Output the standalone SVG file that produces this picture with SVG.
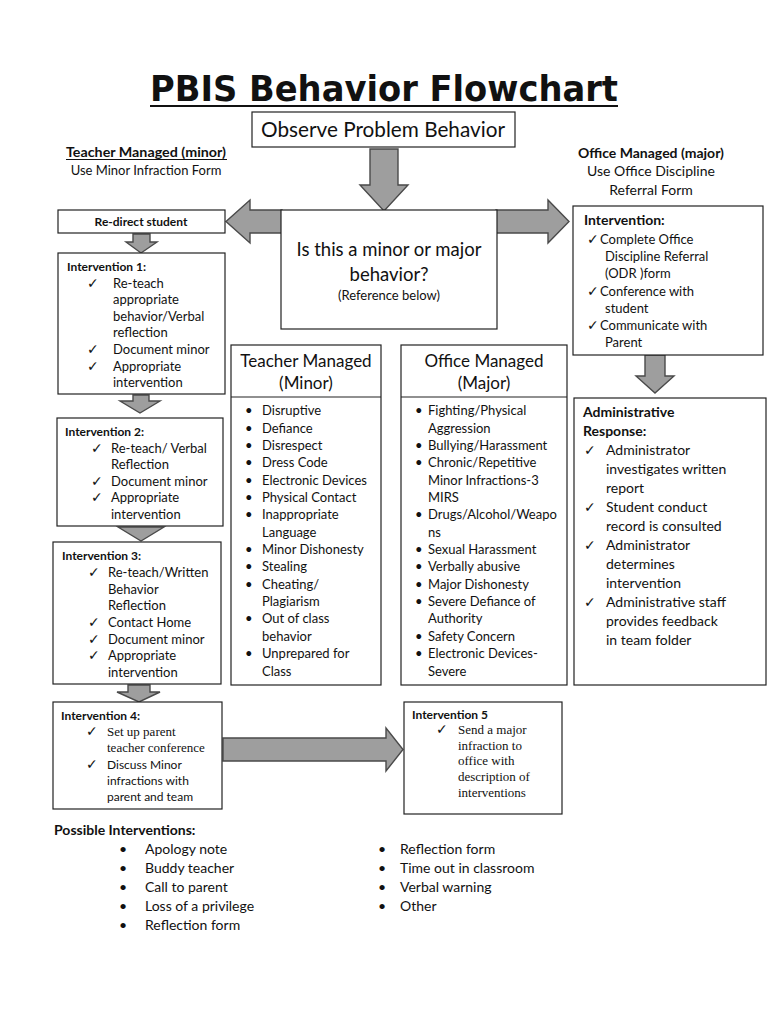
<svg xmlns="http://www.w3.org/2000/svg" width="770" height="1024" viewBox="0 0 770 1024">
<defs>
<style>
text{font-family:Lato,"Liberation Sans",sans-serif;fill:#111;}
.box{fill:#fff;stroke:#222;stroke-width:1.2;}
.arrow{fill:#9e9e9e;stroke:#4a4a4a;stroke-width:1.4;stroke-linejoin:miter;}
.b{font-weight:bold;}
.s12{font-size:12px;}
.s13{font-size:13px;}
.s14{font-size:14px;}
.ck{font-family:"DejaVu Sans",sans-serif;font-size:14px;}
.tm{font-family:"Liberation Serif",serif;font-size:13px;}
.c{text-anchor:middle;}
</style>
</defs>
<rect width="770" height="1024" fill="#fff"/>

<g id="title">
<text x="384" y="101" class="c b" style="font-family:'DejaVu Sans',sans-serif;font-size:35px" textLength="468" lengthAdjust="spacingAndGlyphs">PBIS Behavior Flowchart</text>
<line x1="150" y1="106" x2="618" y2="106" stroke="#111" stroke-width="2.2"/>
</g>

<g id="connectors">
<polygon class="arrow" points="370,149 398,149 398,185 408,185 384,211 360,185 370,185"/>
<polygon class="arrow" points="282,210 250,210 250,200 226,221.5 250,243 250,233 282,233"/>
<polygon class="arrow" points="496,210 548,210 548,200 569,221.5 548,243 548,233 496,233"/>
<polygon class="arrow" points="133,234 150,234 150,242 157,242 141,253 126,242 133,242"/>
<polygon class="arrow" points="133,395 149,395 149,401 160,401 140,413 120,401 133,401"/>
<polygon class="arrow" points="130,527 152,527 164,527 141,541 118,527"/>
<polygon class="arrow" points="128,685 150,685 150,692 160,692 139,702 117,692 128,692"/>
<polygon class="arrow" points="645,355 665,355 665,376 674,376 655,393 636,376 645,376"/>
<polygon class="arrow" points="223,738 386,738 386,728 403,749.5 386,771 386,761 223,761"/>
</g>

<g id="observe">
<rect class="box" x="252" y="112" width="263" height="35"/>
<text x="383" y="137" class="c" style="font-size:22px" textLength="244" lengthAdjust="spacingAndGlyphs">Observe Problem Behavior</text>
</g>

<g id="teacher-label">
<text x="146" y="157" class="c b s14" textLength="160" lengthAdjust="spacingAndGlyphs">Teacher Managed (minor)</text>
<line x1="66" y1="159.5" x2="227" y2="159.5" stroke="#111" stroke-width="1"/>
<text x="146" y="175" class="c s13">Use Minor Infraction Form</text>
</g>

<g id="office-label">
<text x="651" y="158" class="c b s14">Office Managed (major)</text>
<text x="651" y="176" class="c s14">Use Office Discipline</text>
<text x="651" y="195" class="c s14">Referral Form</text>
</g>

<g id="decision">
<rect class="box" x="281" y="210" width="216" height="119"/>
<text x="389" y="256" class="c" style="font-size:18.5px">Is this a minor or major</text>
<text x="389" y="281" class="c" style="font-size:18.5px">behavior?</text>
<text x="389" y="300" class="c s13">(Reference below)</text>
</g>

<g id="redirect">
<rect class="box" x="58" y="210" width="167" height="23"/>
<text x="141" y="226" class="c b s12">Re-direct student</text>
</g>

<g id="intervention1">
<rect class="box" x="58" y="253" width="167" height="141"/>
<text x="67" y="271" class="b s12">Intervention 1:</text>
<text x="87" y="288" class="ck">✓</text>
<text x="113" y="288" class="s13">Re-teach</text>
<text x="113" y="304" class="s13">appropriate</text>
<text x="113" y="321" class="s13">behavior/Verbal</text>
<text x="113" y="337" class="s13">reflection</text>
<text x="87" y="354" class="ck">✓</text>
<text x="113" y="354" class="s13">Document minor</text>
<text x="87" y="371" class="ck">✓</text>
<text x="113" y="371" class="s13">Appropriate</text>
<text x="113" y="387" class="s13">intervention</text>
</g>

<g id="intervention2">
<rect class="box" x="57" y="418" width="166" height="108"/>
<text x="65" y="436" class="b s12">Intervention 2:</text>
<text x="91" y="453" class="ck">✓</text>
<text x="111" y="453" class="s13">Re-teach/ Verbal</text>
<text x="111" y="469" class="s13">Reflection</text>
<text x="91" y="486" class="ck">✓</text>
<text x="111" y="486" class="s13">Document minor</text>
<text x="91" y="502" class="ck">✓</text>
<text x="111" y="502" class="s13">Appropriate</text>
<text x="111" y="519" class="s13">intervention</text>
</g>

<g id="intervention3">
<rect class="box" x="53" y="542" width="168" height="142"/>
<text x="62" y="560" class="b s12">Intervention 3:</text>
<text x="88" y="577" class="ck">✓</text>
<text x="108" y="577" class="s13">Re-teach/Written</text>
<text x="108" y="594" class="s13">Behavior</text>
<text x="108" y="610" class="s13">Reflection</text>
<text x="88" y="627" class="ck">✓</text>
<text x="108" y="627" class="s13">Contact Home</text>
<text x="88" y="644" class="ck">✓</text>
<text x="108" y="644" class="s13">Document minor</text>
<text x="88" y="660" class="ck">✓</text>
<text x="108" y="660" class="s13">Appropriate</text>
<text x="108" y="677" class="s13">intervention</text>
</g>

<g id="intervention4">
<rect class="box" x="53" y="702" width="169" height="107"/>
<text x="61" y="720" class="b s12">Intervention 4:</text>
<text x="86" y="736" class="ck">✓</text>
<text x="107" y="736" class="tm">Set up parent</text>
<text x="107" y="752" class="tm">teacher conference</text>
<text x="86" y="769" class="ck">✓</text>
<text x="107" y="769" class="s12">Discuss  Minor</text>
<text x="107" y="785" class="s12">infractions with</text>
<text x="107" y="801" class="s12">parent and team</text>
</g>

<g id="intervention5">
<rect class="box" x="404" y="702" width="158" height="112"/>
<text x="412" y="719" class="b s12">Intervention 5</text>
<text x="436" y="734" class="ck">✓</text>
<text x="458" y="734" class="tm">Send a major</text>
<text x="458" y="750" class="tm">infraction to</text>
<text x="458" y="765" class="tm">office with</text>
<text x="458" y="781" class="tm">description of</text>
<text x="458" y="797" class="tm">interventions</text>
</g>

<g id="teacher-minor">
<rect class="box" x="231" y="345" width="150" height="340"/>
<line x1="231" y1="397" x2="381" y2="397" stroke="#222" stroke-width="1.2"/>
<text x="306" y="367" class="c" style="font-size:17px">Teacher Managed</text>
<text x="306" y="389" class="c" style="font-size:17px">(Minor)</text>
<g class="s13">
<text x="245" y="415">•</text><text x="262" y="415">Disruptive</text>
<text x="245" y="433">•</text><text x="262" y="433">Defiance</text>
<text x="245" y="450">•</text><text x="262" y="450">Disrespect</text>
<text x="245" y="467">•</text><text x="262" y="467">Dress Code</text>
<text x="245" y="485">•</text><text x="262" y="485">Electronic Devices</text>
<text x="245" y="502">•</text><text x="262" y="502">Physical Contact</text>
<text x="245" y="519">•</text><text x="262" y="519">Inappropriate</text>
<text x="262" y="537">Language</text>
<text x="245" y="554">•</text><text x="262" y="554">Minor Dishonesty</text>
<text x="245" y="571">•</text><text x="262" y="571">Stealing</text>
<text x="245" y="589">•</text><text x="262" y="589">Cheating/</text>
<text x="262" y="606">Plagiarism</text>
<text x="245" y="623">•</text><text x="262" y="623">Out of class</text>
<text x="262" y="641">behavior</text>
<text x="245" y="658">•</text><text x="262" y="658">Unprepared for</text>
<text x="262" y="676">Class</text>
</g>
</g>

<g id="office-major">
<rect class="box" x="401" y="345" width="166" height="340"/>
<line x1="401" y1="397" x2="567" y2="397" stroke="#222" stroke-width="1.2"/>
<text x="484" y="367" class="c" style="font-size:17px">Office Managed</text>
<text x="484" y="389" class="c" style="font-size:17px">(Major)</text>
<g class="s13">
<text x="415" y="415">•</text><text x="428" y="415">Fighting/Physical</text>
<text x="428" y="433">Aggression</text>
<text x="415" y="450">•</text><text x="428" y="450">Bullying/Harassment</text>
<text x="415" y="467">•</text><text x="428" y="467">Chronic/Repetitive</text>
<text x="428" y="485">Minor Infractions-3</text>
<text x="428" y="502">MIRS</text>
<text x="415" y="519">•</text><text x="428" y="519">Drugs/Alcohol/Weapo</text>
<text x="428" y="537">ns</text>
<text x="415" y="554">•</text><text x="428" y="554">Sexual Harassment</text>
<text x="415" y="571">•</text><text x="428" y="571">Verbally abusive</text>
<text x="415" y="589">•</text><text x="428" y="589">Major Dishonesty</text>
<text x="415" y="606">•</text><text x="428" y="606">Severe Defiance of</text>
<text x="428" y="623">Authority</text>
<text x="415" y="641">•</text><text x="428" y="641">Safety Concern</text>
<text x="415" y="658">•</text><text x="428" y="658">Electronic Devices-</text>
<text x="428" y="676">Severe</text>
</g>
</g>

<g id="office-intervention">
<rect class="box" x="573" y="206" width="190" height="149"/>
<text x="584" y="225" class="b s14">Intervention:</text>
<text x="587" y="244" class="ck">✓</text><text x="600" y="244" class="s13">Complete Office</text>
<text x="605" y="261" class="s13">Discipline Referral</text>
<text x="605" y="278" class="s13">(ODR )form</text>
<text x="587" y="296" class="ck">✓</text><text x="600" y="296" class="s13">Conference with</text>
<text x="605" y="313" class="s13">student</text>
<text x="587" y="330" class="ck">✓</text><text x="600" y="330" class="s13">Communicate with</text>
<text x="605" y="347" class="s13">Parent</text>
</g>

<g id="admin-response">
<rect class="box" x="574" y="398" width="192" height="287"/>
<text x="583" y="417" class="b s14">Administrative</text>
<text x="583" y="436" class="b s14">Response:</text>
<g class="s14">
<text x="584" y="455" class="ck">✓</text><text x="606" y="455">Administrator</text>
<text x="606" y="474">investigates written</text>
<text x="606" y="493">report</text>
<text x="584" y="512" class="ck">✓</text><text x="606" y="512">Student conduct</text>
<text x="606" y="531">record is consulted</text>
<text x="584" y="550" class="ck">✓</text><text x="606" y="550">Administrator</text>
<text x="606" y="569">determines</text>
<text x="606" y="588">intervention</text>
<text x="584" y="607" class="ck">✓</text><text x="606" y="607">Administrative staff</text>
<text x="606" y="626">provides feedback</text>
<text x="606" y="645">in team folder</text>
</g>
</g>

<g id="possible-interventions">
<text x="54" y="835" class="b s14">Possible Interventions:</text>
<g class="s14">
<text x="119" y="854">•</text><text x="145" y="854">Apology note</text>
<text x="119" y="873">•</text><text x="145" y="873">Buddy teacher</text>
<text x="119" y="892">•</text><text x="145" y="892">Call to parent</text>
<text x="119" y="911">•</text><text x="145" y="911">Loss of a privilege</text>
<text x="119" y="930">•</text><text x="145" y="930">Reflection form</text>
<text x="378" y="854">•</text><text x="400" y="854">Reflection form</text>
<text x="378" y="873">•</text><text x="400" y="873">Time out in classroom</text>
<text x="378" y="892">•</text><text x="400" y="892">Verbal warning</text>
<text x="378" y="911">•</text><text x="400" y="911">Other</text>
</g>
</g>
</svg>
